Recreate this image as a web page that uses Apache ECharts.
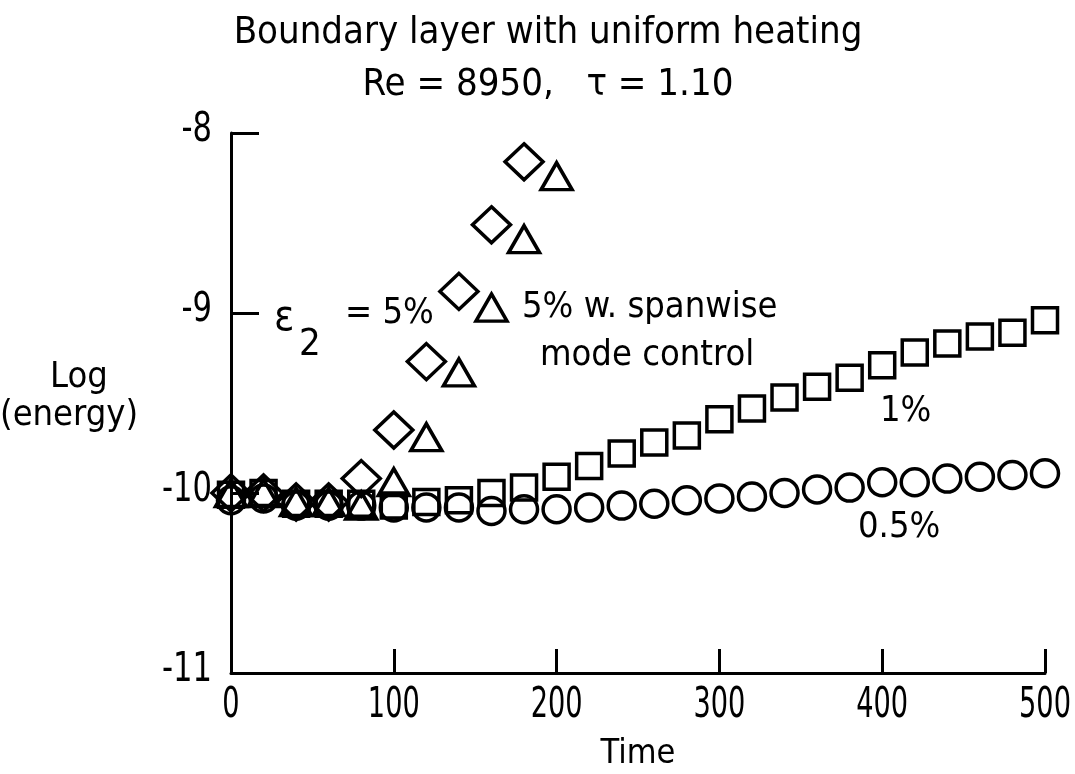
<!DOCTYPE html>
<html>
<head>
<meta charset="utf-8">
<script src="https://cdn.jsdelivr.net/npm/echarts@6/dist/echarts.min.js"></script>
<style>
	html, body { margin: 0; padding: 0; background: #fff; }
	#chart { width: 1075px; height: 774px; }
</style>
</head>
<body>
<div id="chart"></div>
<script>
//Chart data
const x_ticks = [0, 100, 200, 300, 400, 500];
const y_ticks = [-11, -10, -9, -8];

const diamond_times = [0, 20, 40, 60, 80, 100, 120, 140, 160, 180];
const diamond_values = [-10.0, -10.0, -10.05, -10.05, -9.92, -9.65, -9.27, -8.88, -8.51, -8.16];

const triangle_times = [0, 20, 40, 60, 80, 100, 120, 140, 160, 180, 200];
const triangle_values = [-10.0, -10.0, -10.05, -10.05, -10.07, -9.94, -9.69, -9.33, -8.97, -8.59, -8.24];

const square_times = [0, 20, 40, 60, 80, 100, 120, 140, 160, 180, 200, 220, 240, 260, 280, 300, 320, 340, 360, 380, 400, 420, 440, 460, 480, 500];
const square_values = [-10.01, -10.0, -10.06, -10.06, -10.06, -10.07, -10.05, -10.04, -10.0, -9.97, -9.91, -9.85, -9.78, -9.72, -9.68, -9.59, -9.53, -9.47, -9.41, -9.36, -9.29, -9.22, -9.17, -9.13, -9.11, -9.04];

const circle_times = [0, 20, 40, 60, 80, 100, 120, 140, 160, 180, 200, 220, 240, 260, 280, 300, 320, 340, 360, 380, 400, 420, 440, 460, 480, 500];
const circle_values = [-10.04, -10.03, -10.07, -10.07, -10.07, -10.08, -10.08, -10.08, -10.1, -10.09, -10.09, -10.08, -10.07, -10.06, -10.04, -10.03, -10.02, -10.0, -9.98, -9.97, -9.94, -9.94, -9.92, -9.91, -9.9, -9.89];

//Declare local instance variables
let font_family = "'Liberation Sans Narrow', 'DejaVu Sans Condensed', sans-serif";
let chart = echarts.init(document.getElementById("chart"), null, { renderer: "canvas" });

function toPairs (arg0_x, arg1_y) {
	//Convert from parameters
	let x_values = arg0_x;
	let y_values = arg1_y;
	
	//Return statement
	return x_values.map((local_x, i) => [local_x, y_values[i]]);
}

function getScatterSeries (arg0_name, arg1_data, arg2_symbol, arg3_size) {
	//Return statement
	return {
		name: arg0_name,
		type: "scatter",
		data: arg1_data,
		symbol: arg2_symbol,
		symbolSize: arg3_size,
		itemStyle: {
			color: "rgba(255,255,255,0)",
			borderColor: "#000",
			borderWidth: 3.5,
			opacity: 1
		},
		emphasis: { disabled: true },
		silent: true
	};
}

function getText (arg0_text, arg1_left, arg2_top, arg3_size) {
	//Return statement
	return {
		type: "text",
		left: arg1_left,
		top: arg2_top,
		style: {
			text: arg0_text,
			fontFamily: font_family,
			fontSize: arg3_size,
			fill: "#000"
		}
	};
}

//Condensed tick label, anchored at a pixel point from the axis scale
function getTickLabel (arg0_text, arg1_point, arg2_options) {
	//Convert from parameters
	let options = (arg2_options) ? arg2_options : {};
	
	//Return statement
	return {
		type: "text",
		x: arg1_point[0],
		y: arg1_point[1],
		scaleX: options.scale_x,
		silent: true,
		style: {
			text: arg0_text,
			x: 0,
			y: 0,
			align: options.align,
			verticalAlign: options.vertical_align,
			fontFamily: font_family,
			fontSize: options.font_size,
			fill: "#000"
		}
	};
}

let graphic_texts = [
	getText("Log", 50, 360, 36),
	getText("(energy)", 0, 398, 36),
	getText("ε", 274, 298, 42),
	getText("2", 299, 326, 38),
	getText("= 5%", 345, 296, 36),
	getText("5% w. spanwise", 522, 290, 36),
	getText("mode control", 540, 338, 36),
	getText("1%", 880, 394, 36),
	getText("0.5%", 858, 510, 36)
];

chart.setOption({
	animation: false,
	backgroundColor: "#fff",
	title: {
		text: "Boundary layer with uniform heating\nRe = 8950,   τ = 1.10",
		left: 543,
		textAlign: "center",
		top: 2,
		textStyle: {
			fontFamily: font_family,
			fontSize: 38,
			fontWeight: "normal",
			color: "#000",
			lineHeight: 52
		}
	},
	grid: {
		left: 231,
		right: 30,
		top: 133,
		bottom: 101,
		outerBoundsMode: "none",
		containLabel: false
	},
	xAxis: {
		type: "value",
		min: 0,
		max: 500,
		interval: 100,
		name: "Time",
		nameLocation: "middle",
		nameGap: 64,
		nameTextStyle: { fontFamily: font_family, fontSize: 34, color: "#000" },
		axisLine: { show: true, lineStyle: { color: "#000", width: 3 } },
		axisTick: { show: true, inside: true, length: 24, lineStyle: { color: "#000", width: 3 } },
		axisLabel: { show: false },
		splitLine: { show: false }
	},
	yAxis: {
		type: "value",
		min: -11,
		max: -8,
		interval: 1,
		axisLine: { show: true, onZero: false, lineStyle: { color: "#000", width: 3 } },
		axisTick: { show: true, inside: true, length: 28, lineStyle: { color: "#000", width: 3 } },
		axisLabel: { show: false },
		splitLine: { show: false }
	},
	graphic: graphic_texts,
	series: [
		getScatterSeries("1%", toPairs(square_times, square_values), "rect", 25),
		getScatterSeries("0.5%", toPairs(circle_times, circle_values), "circle", 27),
		getScatterSeries("5%", toPairs(diamond_times, diamond_values), "diamond", [38, 36]),
		getScatterSeries("5% w. spanwise mode control", toPairs(triangle_times, triangle_values), "triangle", [31, 27])
	]
});

//Place tick labels through the axis scales
let tick_labels = [];
x_ticks.forEach((local_value) => {
	let local_point = chart.convertToPixel({ gridIndex: 0 }, [local_value, -11]);
	tick_labels.push(getTickLabel(String(local_value), [local_point[0], local_point[1] + 12], {
		align: "center", vertical_align: "top", font_size: 42, scale_x: 0.72
	}));
});
y_ticks.forEach((local_value) => {
	let local_point = chart.convertToPixel({ gridIndex: 0 }, [0, local_value]);
	tick_labels.push(getTickLabel(String(local_value), [local_point[0] - 19, local_point[1] - 2], {
		align: "right", vertical_align: "middle", font_size: 40, scale_x: 0.85
	}));
});
chart.setOption({ graphic: graphic_texts.concat(tick_labels) });
</script>
</body>
</html>
